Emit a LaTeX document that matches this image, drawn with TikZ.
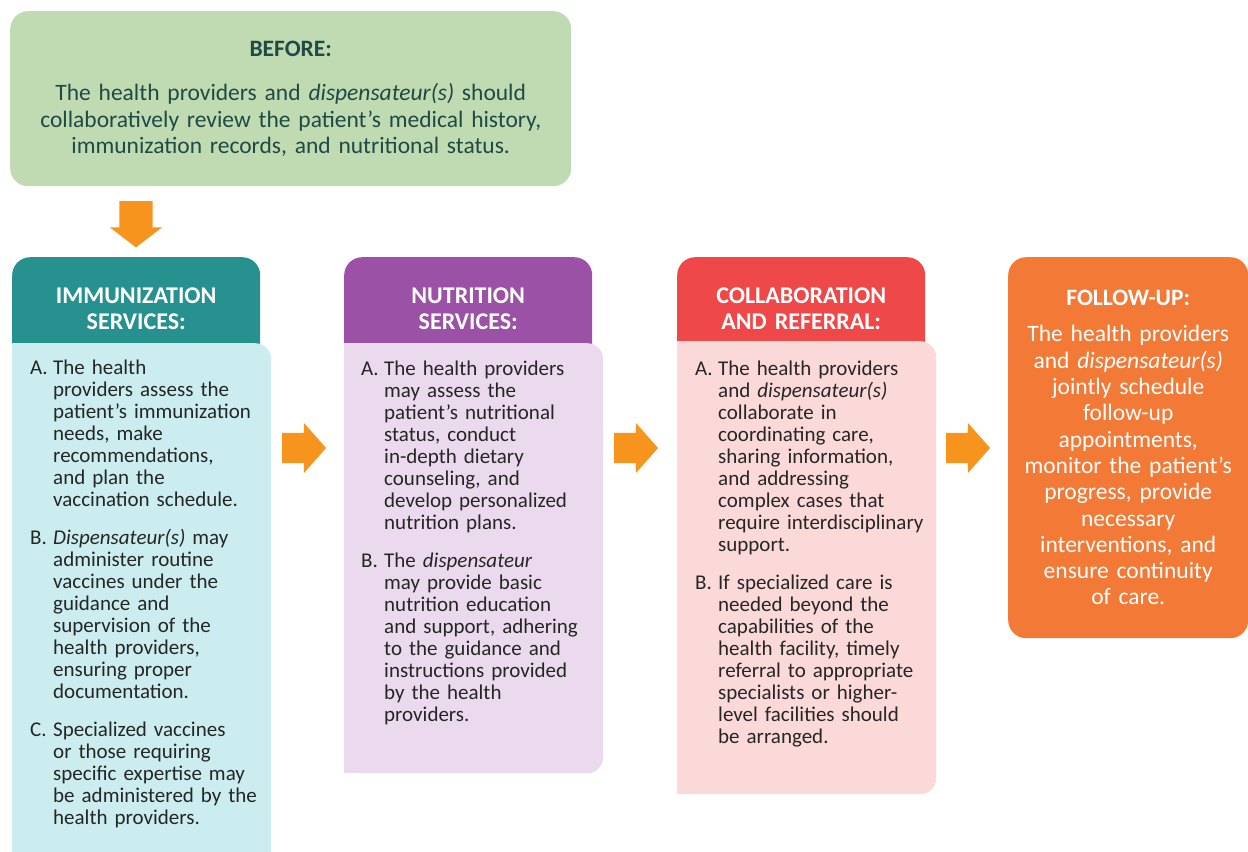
\documentclass[tikz,border=0pt]{standalone}
\usepackage{fontspec}
\setmainfont{Carlito}
\usetikzlibrary{shapes.arrows}

\definecolor{beforefill}{HTML}{C0DAB2}
\definecolor{beforetext}{HTML}{1E4B45}
\definecolor{flowfill}{HTML}{F7941D}
\definecolor{tealhead}{HTML}{27918F}
\definecolor{tealbody}{HTML}{CBEDEF}
\definecolor{purplehead}{HTML}{9B51A5}
\definecolor{purplebody}{HTML}{EBD9ED}
\definecolor{redhead}{HTML}{EF4848}
\definecolor{redbody}{HTML}{FBD9D9}
\definecolor{followfill}{HTML}{F27A36}
\definecolor{itemtext}{HTML}{262626}

% lettered point, later lines hang under the text
\newcommand\entry[2]{\hangindent=23bp\hangafter=1\noindent\makebox[23bp][l]{#1}#2\par}
\newcommand\entrygap{\vspace{16bp}}

\begin{document}
\begin{tikzpicture}[x=1bp, y=1bp,
  head/.style = {rounded corners=18bp, anchor=north west, minimum width=248bp, minimum height=104bp, text width=240bp, align=center, text=white, font=\fontsize{24bp}{26bp}\selectfont\bfseries},
  body/.style = {rounded corners=16bp, anchor=north west, minimum width=259bp},
  items/.style = {anchor=base west, inner sep=0pt, text width=250bp, align=left, text=itemtext, font=\fontsize{21bp}{22bp}\selectfont},
  bigbox/.style = {rounded corners=18bp, anchor=north west, align=center, font=\fontsize{23.5bp}{26.3bp}\selectfont},
  flowarrow/.style = {single arrow, fill=flowfill, anchor=tail, inner sep=15bp, minimum width=50bp, minimum height=43bp, single arrow head extend=10bp, single arrow tip angle=97}]
\useasboundingbox (0,0) rectangle (1248,-852);
\clip (0,0) rectangle (1248,-852);

% before
\node[bigbox, fill=beforefill, text=beforetext, minimum width=561bp, minimum height=175bp, text width=540bp] (before) at (10,-11)
  {{\bfseries BEFORE:}\\[18bp]
   The health providers and \textit{dispensateur(s)} should\\
   collaboratively review the patient’s medical history,\\
   immunization records, and nutritional status.};
\node[flowarrow, shape border rotate=270, inner sep=16.5bp, minimum width=52bp, minimum height=42bp, single arrow head extend=9.5bp, single arrow tip angle=105] (down) at (136,-201) {};

% immunization
\node[head, fill=tealhead] (immhead) at (12,-257) {IMMUNIZATION\\SERVICES:};
\node[body, fill=tealbody, minimum height=525bp] (immbody) at (12,-343) {};
\fill[tealbody] (immbody.north west) rectangle ([xshift=16bp]immbody.south west);
\node[items] (immtext) at (30,-374) {%
  \entry{A.}{The health\newline providers assess the\newline patient’s immunization\newline needs, make\newline recommendations,\newline and plan the\newline vaccination schedule.}
  \entrygap
  \entry{B.}{\textit{Dispensateur(s)} may\newline administer routine\newline vaccines under the\newline guidance and\newline supervision of the\newline health providers,\newline ensuring proper\newline documentation.}
  \entrygap
  \entry{C.}{Specialized vaccines\newline or those requiring\newline specific expertise may\newline be administered by the\newline health providers.}};
\node[flowarrow] (arr1) at (282,-448) {};

% nutrition
\node[head, fill=purplehead] (nuthead) at (344,-257) {NUTRITION\\SERVICES:};
\node[body, fill=purplebody, minimum height=430bp] (nutbody) at (344,-343) {};
\fill[purplebody] (nutbody.north west) rectangle ([xshift=16bp]nutbody.south west);
\node[items] (nuttext) at (361,-375) {%
  \entry{A.}{The health providers\newline may assess the\newline patient’s nutritional\newline status, conduct\newline in-depth dietary\newline counseling, and\newline develop personalized\newline nutrition plans.}
  \entrygap
  \entry{B.}{The \textit{dispensateur}\newline may provide basic\newline nutrition education\newline and support, adhering\newline to the guidance and\newline instructions provided\newline by the health\newline providers.}};
\node[flowarrow] (arr2) at (614,-448) {};

% collaboration
\node[head, fill=redhead] (colhead) at (677,-257) {COLLABORATION\\AND REFERRAL:};
\node[body, fill=redbody, minimum height=453bp] (colbody) at (677,-341) {};
\fill[redbody] (colbody.north west) rectangle ([xshift=16bp]colbody.south west);
\node[items] (coltext) at (695,-375) {%
  \entry{A.}{The health providers\newline and \textit{dispensateur(s)}\newline collaborate in\newline coordinating care,\newline sharing information,\newline and addressing\newline complex cases that\newline require interdisciplinary\newline support.}
  \entrygap
  \entry{B.}{If specialized care is\newline needed beyond the\newline capabilities of the\newline health facility, timely\newline referral to appropriate\newline specialists or higher-\newline level facilities should\newline be arranged.}};
\node[flowarrow] (arr3) at (946,-448) {};

% follow-up
\node[bigbox, fill=followfill, text=white, minimum width=240bp, minimum height=381bp, text width=228bp] (follow) at (1008,-257)
  {{\bfseries FOLLOW-UP:}\\[10bp]
   The health providers\\ and \textit{dispensateur(s)}\\ jointly schedule\\ follow-up\\ appointments,\\ monitor the patient’s\\ progress, provide\\ necessary\\ interventions, and\\ ensure continuity\\ of care.};
\end{tikzpicture}
\end{document}
